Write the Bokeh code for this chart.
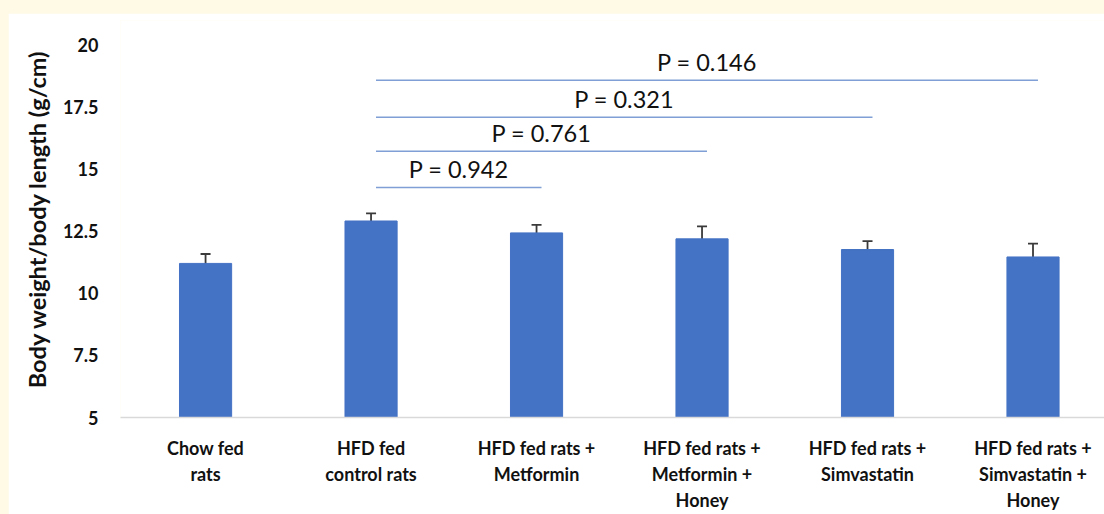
from bokeh.plotting import figure
from bokeh.layouts import column
from bokeh.models import Range1d, FixedTicker, Whisker, TeeHead, ColumnDataSource
from bokeh.embed import file_html
from bokeh.resources import INLINE
from bokeh.core.properties import value

categories = ["Chow fed\nrats", "HFD fed\ncontrol rats", "HFD fed rats +\nMetformin",
              "HFD fed rats +\nMetformin +\nHoney", "HFD fed rats +\nSimvastatin",
              "HFD fed rats +\nSimvastatin +\nHoney"]
means = [11.21, 12.92, 12.44, 12.20, 11.77, 11.47]
errors = [0.38, 0.31, 0.32, 0.50, 0.34, 0.54]
y_ticks = [5, 7.5, 10, 12.5, 15, 17.5, 20]
y_tick_labels = ["5", "7.5", "10", "12.5", "15", "17.5", "20"]
p_labels = ["P = 0.942", "P = 0.761", "P = 0.321", "P = 0.146"]
p_from = [1, 1, 1, 1]
p_to = [2, 3, 4, 5]
p_levels = [14.27, 15.73, 17.10, 18.59]

FONT = "Lato"
BAR = "#4472C4"
CREAM = "#fffae6"

xs = list(range(len(categories)))
src = ColumnDataSource(dict(
    x=xs, top=means,
    upper=[m + e for m, e in zip(means, errors)],
    lower=[m - e for m, e in zip(means, errors)],
))

p = figure(frame_width=984, frame_height=397, x_range=Range1d(-0.514, 5.432), y_range=Range1d(5, 21),
           output_backend="svg", toolbar_location=None,
           min_border_left=112, min_border_right=0, min_border_top=7, min_border_bottom=96)
p.outline_line_color = None
p.background_fill_color = "white"
p.border_fill_color = "white"
p.grid.visible = False

p.vbar(x="x", top="top", bottom=5, width=0.315, source=src, fill_color=BAR, line_color=BAR)
w = Whisker(base="x", upper="upper", lower="lower", source=src, line_color="#3a3a3a", line_width=1.8,
            upper_head=TeeHead(size=10, line_color="#3a3a3a", line_width=1.8),
            lower_head=TeeHead(size=10, line_color="#3a3a3a", line_width=1.8))
p.add_layout(w)

# significance lines
sx0 = [a + 0.03 for a in p_from]
sx1 = [b + 0.03 for b in p_to]
lsrc = ColumnDataSource(dict(x0=sx0, x1=sx1, y=p_levels,
                             xm=[(a + b) / 2 for a, b in zip(sx0, sx1)], t=p_labels))
p.segment(x0="x0", y0="y", x1="x1", y1="y", source=lsrc, line_color="#7f9fd6", line_width=1.5)
p.text(x="xm", y="y", text="t", source=lsrc, text_align="center", text_baseline="middle",
       y_offset=-18, text_font=value(FONT), text_font_size="23.5px", text_color="#111111")

# axes
xa = p.xaxis[0]
xa.ticker = FixedTicker(ticks=xs)
xa.major_label_overrides = {i: c for i, c in zip(xs, categories)}
xa.axis_line_color = "#d9d9d9"
xa.axis_line_width = 1.5
xa.major_tick_line_color = None
xa.minor_tick_line_color = None
xa.major_label_text_font = FONT
xa.major_label_text_font_style = "bold"
xa.major_label_text_font_size = "18px"
xa.major_label_text_color = "#111111"
xa.major_label_text_line_height = 1.2
xa.major_label_standoff = 13

ya = p.yaxis[0]
ya.ticker = FixedTicker(ticks=y_ticks)
ya.major_label_overrides = {t: l for t, l in zip(y_ticks, y_tick_labels)}
ya.axis_line_color = None
ya.major_tick_line_color = None
ya.minor_tick_line_color = None
ya.major_label_text_font = FONT
ya.major_label_text_font_style = "bold"
ya.major_label_text_font_size = "18px"
ya.major_label_text_color = "#111111"
ya.major_label_standoff = 16
ya.axis_label = "Body weight/body length (g/cm)"
ya.axis_label_text_font = FONT
ya.axis_label_text_font_style = "bold"
ya.axis_label_text_font_size = "23.5px"
ya.axis_label_text_color = "#111111"
ya.axis_label_standoff = 9

page = column(p, styles={"background-color": CREAM, "padding-left": "8px", "padding-top": "13px"})

open("out.html", "w").write(file_html(page, INLINE))
